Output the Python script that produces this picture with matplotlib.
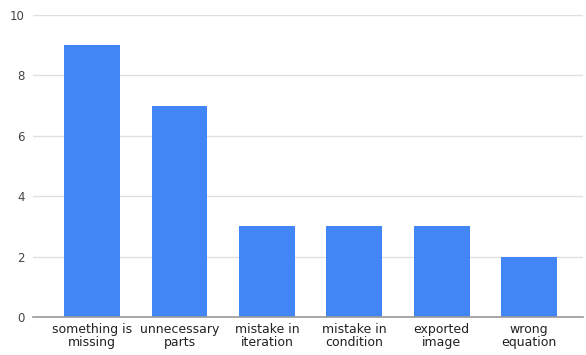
import matplotlib.pyplot as plt

# --- Data ---
CATEGORIES = [
    "something is\nmissing", "unnecessary\nparts", "mistake in\niteration",
    "mistake in\ncondition", "exported\nimage", "wrong\nequation"
]
COUNTS = [9, 7, 3, 3, 3, 2]
Y_TICKS = [0, 2, 4, 6, 8, 10]

BAR_COLOR = '#4285F4'
GRID_COLOR = '#e0e0e0'

fig = plt.figure(figsize=(5.86, 3.55), dpi=100)
ax = fig.add_axes([0.056, 0.107, 0.939, 0.851])

x = range(len(CATEGORIES))
ax.bar(x, COUNTS, width=0.64, color=BAR_COLOR, zorder=3)

ax.set_xlim(-0.68, len(CATEGORIES) - 0.38)
ax.set_ylim(0, 10)
ax.set_yticks(Y_TICKS)
ax.set_xticks(list(x))
ax.set_xticklabels(CATEGORIES, fontsize=9, color='#222222', linespacing=1.05)

ax.grid(axis='y', color=GRID_COLOR, linewidth=1, zorder=0)
for side in ['top', 'right', 'left']:
    ax.spines[side].set_visible(False)
ax.spines['bottom'].set_color('#999999')
ax.spines['bottom'].set_linewidth(1.2)
ax.spines['bottom'].set_zorder(4)

ax.tick_params(axis='y', length=0, labelsize=8.5, labelcolor='#444444', pad=6)
ax.tick_params(axis='x', length=0, pad=4)

fig.savefig('out.png', dpi=100)
